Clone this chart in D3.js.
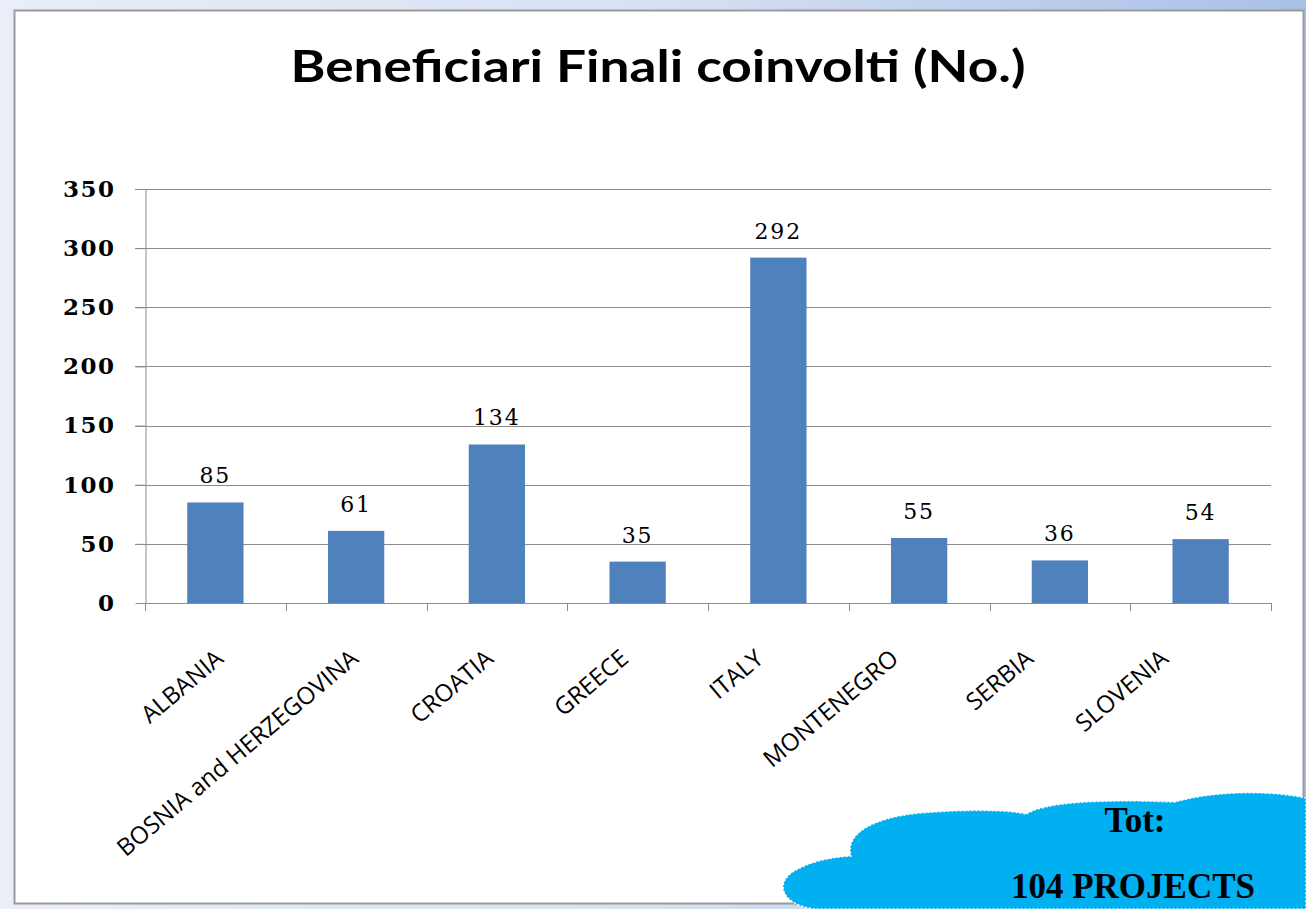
<!DOCTYPE html>
<html>
<head>
<meta charset="utf-8">
<script src="https://cdn.jsdelivr.net/npm/d3@7"></script>
<style>
  html, body { margin: 0; padding: 0; }
  body {
    width: 1306px; height: 909px; overflow: hidden;
    background: linear-gradient(90deg, #e9eef8 0%, #d7e1f2 50%, #a9c0e7 100%);
  }
</style>
</head>
<body>
<svg id="chart"></svg>
<script>
const categories = ['ALBANIA', 'BOSNIA and HERZEGOVINA', 'CROATIA', 'GREECE', 'ITALY', 'MONTENEGRO', 'SERBIA', 'SLOVENIA'];
const values = [85, 61, 134, 35, 292, 55, 36, 54];
const yTicks = [0, 50, 100, 150, 200, 250, 300, 350];
const title = 'Beneficiari Finali coinvolti (No.)';
const noteLines = ['Tot:', '104 PROJECTS'];

const W = 1306, H = 909;
const plot = { left: 145, right: 1271, top: 189, bottom: 603 };

const svg = d3.select('#chart').attr('width', W).attr('height', H);

// white chart panel
svg.append('rect')
  .attr('x', 14.5).attr('y', 10.5)
  .attr('width', 1289).attr('height', 893)
  .attr('fill', '#fff')
  .attr('stroke', '#9a9a9a').attr('stroke-width', 2);

svg.append('text')
  .attr('x', 658).attr('y', 82)
  .attr('text-anchor', 'middle')
  .attr('font-family', 'Lato, "Open Sans", sans-serif')
  .attr('font-weight', 'bold')
  .attr('font-size', 44)
  .attr('textLength', 735)
  .attr('lengthAdjust', 'spacingAndGlyphs')
  .attr('fill', '#000')
  .text(title);

const x = d3.scaleBand().domain(categories).range([plot.left, plot.right]).paddingInner(0.6).paddingOuter(0.3);
const y = d3.scaleLinear().domain([0, 350]).range([plot.bottom, plot.top]);
// rotated labels sit on a slightly tighter spacing than the bars
const xLabel = d3.scalePoint().domain(categories).range([225, 1170]);

// gridlines
svg.append('g')
  .selectAll('line').data(yTicks.filter(d => d > 0)).join('line')
  .attr('x1', 135).attr('x2', plot.right)
  .attr('y1', d => Math.round(y(d)) + 0.5).attr('y2', d => Math.round(y(d)) + 0.5)
  .attr('stroke', '#8c8c8c').attr('stroke-width', 1);

// bars
svg.append('g')
  .selectAll('rect').data(values).join('rect')
  .attr('x', (d, i) => x(categories[i]))
  .attr('y', d => y(d))
  .attr('width', x.bandwidth())
  .attr('height', d => y(0) - y(d))
  .attr('fill', '#4f81bd');

// value labels
svg.append('g')
  .selectAll('text').data(values).join('text')
  .attr('x', (d, i) => x(categories[i]) + x.bandwidth() / 2)
  .attr('y', d => y(d) - 19)
  .attr('text-anchor', 'middle')
  .attr('font-family', '"DejaVu Serif", "Liberation Serif", serif')
  .attr('font-size', 22)
  .attr('letter-spacing', 2)
  .attr('fill', '#000')
  .text(d => d);

// y axis
const yAxis = d3.axisLeft(y).tickValues(yTicks).tickSize(10).tickSizeOuter(0).tickPadding(20);
const yg = svg.append('g').attr('transform', `translate(${plot.left + 0.5},0)`).call(yAxis);
yg.select('.domain').attr('stroke', '#8c8c8c');
yg.selectAll('.tick line').attr('stroke', '#8c8c8c');
yg.selectAll('.tick text')
  .attr('font-family', '"DejaVu Serif", "Liberation Serif", serif')
  .attr('font-weight', 'bold')
  .attr('font-size', 23)
  .attr('letter-spacing', 1.5)
  .attr('fill', '#000');

// x axis: ticks between categories
const xBorders = d3.range(categories.length + 1).map(i => plot.left + i * x.step());
svg.append('line')
  .attr('x1', plot.left).attr('x2', plot.right)
  .attr('y1', plot.bottom + 0.5).attr('y2', plot.bottom + 0.5)
  .attr('stroke', '#8c8c8c');
svg.append('g')
  .selectAll('line').data(xBorders).join('line')
  .attr('x1', d => Math.round(d) + 0.5).attr('x2', d => Math.round(d) + 0.5)
  .attr('y1', plot.bottom).attr('y2', plot.bottom + 8)
  .attr('stroke', '#8c8c8c');

svg.append('g')
  .selectAll('text').data(categories).join('text')
  .attr('transform', d => `translate(${xLabel(d)},${plot.bottom + 58}) rotate(-40)`)
  .attr('text-anchor', 'end')
  .attr('font-family', '"Open Sans", "Noto Sans", sans-serif')
  .attr('font-size', 24)
  .attr('fill', '#000')
  .text(d => d);

// cloud callout
const cloud = 'M 815 909 C 780 905, 772 880, 800 868 C 815 860, 835 857, 851 856 C 845 835, 870 818, 920 813 C 970 809, 1010 810, 1026 814 C 1045 803, 1090 799, 1175 802 C 1210 792, 1260 789, 1306 798 L 1306 909 Z';
svg.append('path')
  .attr('d', cloud)
  .attr('fill', '#00b0f0')
  .attr('stroke', '#ffffff')
  .attr('stroke-width', 1.5)
  .attr('stroke-dasharray', '2,2');

svg.append('g')
  .selectAll('text').data(noteLines).join('text')
  .attr('x', (d, i) => i === 0 ? 1135 : 1133)
  .attr('y', (d, i) => i === 0 ? 832 : 898)
  .attr('text-anchor', 'middle')
  .attr('font-family', '"Liberation Serif", "DejaVu Serif", serif')
  .attr('font-weight', 'bold')
  .attr('font-size', 35)
  .attr('fill', '#000')
  .text(d => d);
</script>
</body>
</html>
